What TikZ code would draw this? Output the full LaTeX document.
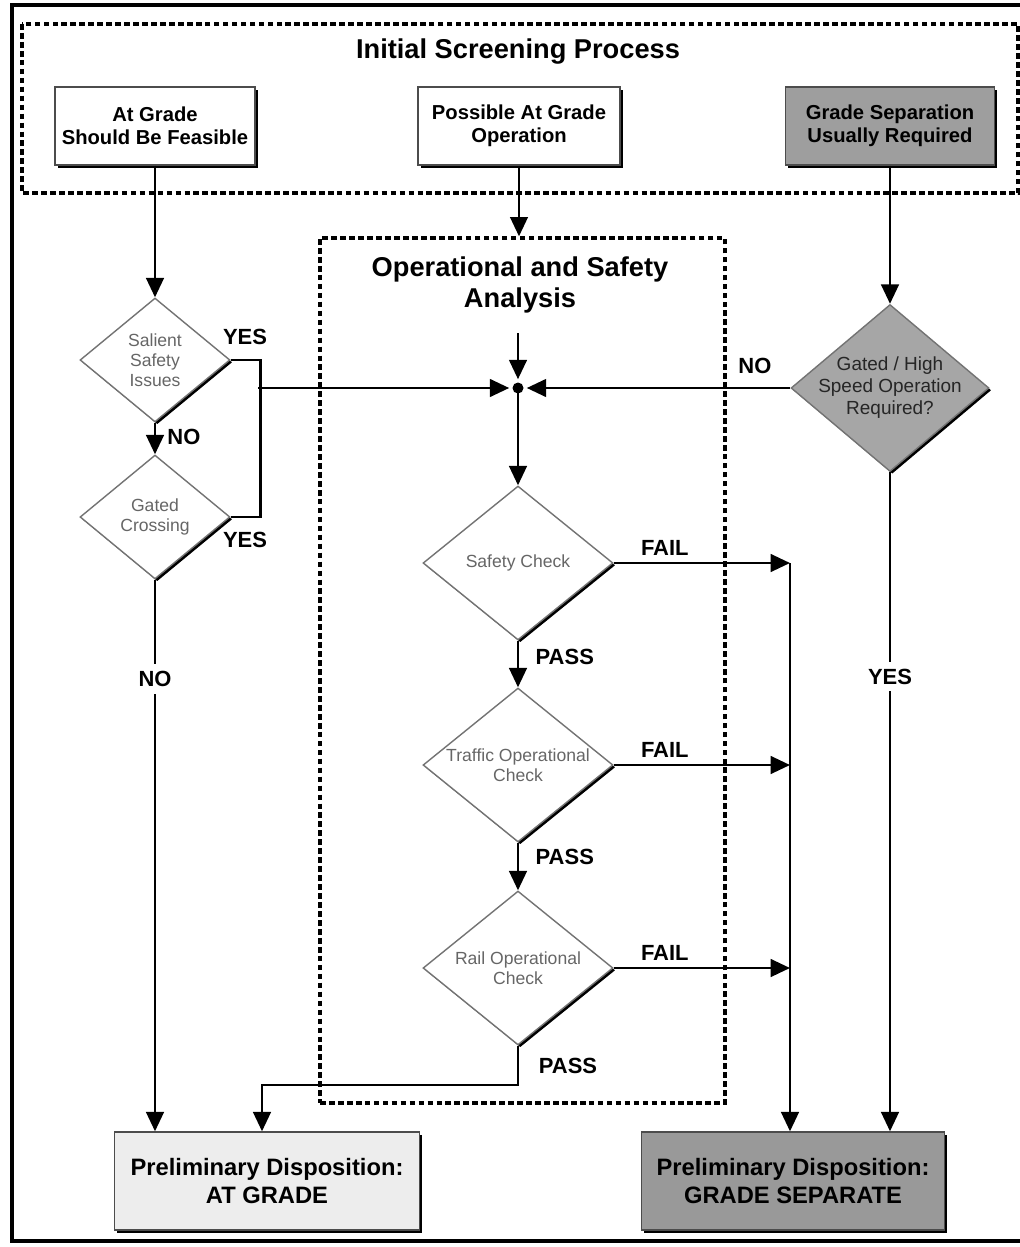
\documentclass[tikz,border=0pt]{standalone}
\usepackage{fontspec}
\setmainfont{Liberation Sans}
\usetikzlibrary{shapes.geometric,arrows.meta,shadows}

\begin{document}
\begin{tikzpicture}[x=0.02cm,y=-0.02cm,
    box/.style={rectangle,draw=black!70,line width=0.8pt,fill=white,align=center,
        font=\bfseries\fontsize{11.5}{13}\selectfont,
        drop shadow={shadow xshift=1.6pt,shadow yshift=-1.6pt,opacity=1,fill=black}},
    dia/.style={diamond,draw=black!55,line width=0.8pt,fill=white,inner sep=0pt,
        drop shadow={shadow xshift=1.3pt,shadow yshift=-1.3pt,opacity=1,fill=black}},
    dtxt/.style={align=center,font=\fontsize{10}{11.5}\selectfont,text=black!60},
    lbl/.style={font=\bfseries\fontsize{12.5}{14}\selectfont},
    frame/.style={draw,line width=2pt,dash pattern=on 3.2pt off 1.9pt},
    arr/.style={line width=1.5pt,-{Triangle[length=11pt,width=10pt]}}]
\useasboundingbox (0,0) rectangle (1020,1247);
\draw[line width=2.8pt] (12,5) rectangle (1040,1241);

% initial screening
\draw[frame] (22,24) rectangle (1018,193);
\node[font=\bfseries\fontsize{15.5}{17}\selectfont] (T1) at (518,52) {Initial Screening Process};
\node[box,minimum width=4cm,minimum height=1.56cm] (B1) at (155,126) {At Grade\\Should Be Feasible};
\node[box,minimum width=4.04cm,minimum height=1.56cm] (B2) at (519,126) {Possible At Grade\\Operation};
\node[box,minimum width=4.18cm,minimum height=1.56cm,fill=black!38] (B3) at (890,126) {Grade Separation\\Usually Required};

% operational and safety analysis
\node[frame,minimum width=8.1cm,minimum height=17.3cm] (OSA) at (522.5,670.5) {};
\node[font=\bfseries\fontsize{15.5}{18}\selectfont,align=center] (T2) at (520,285) {Operational and Safety\\Analysis};
\coordinate (J0) at (518,333);
\coordinate (J) at (518,388);
\coordinate (K) at (258,388);

\node[dia,minimum width=3cm,minimum height=2.48cm] (D1) at (155,360) {};
\node[dtxt] (D1t) at (D1) {Salient\\Safety\\Issues};
\node[dia,minimum width=3cm,minimum height=2.48cm] (D2) at (155,517) {};
\node[dtxt] (D2t) at (D2) {Gated\\Crossing};
\node[dia,minimum width=3.96cm,minimum height=3.34cm,fill=black!35] (D3) at (890,388) {};
\node[dtxt,text=black!85,font=\fontsize{10.8}{12.5}\selectfont] (D3t) at (D3) {Gated / High\\Speed Operation\\Required?};
\node[dia,minimum width=3.8cm,minimum height=3.08cm] (D4) at (518,563) {};
\node[dtxt] (D4t) at (D4) {Safety Check};
\node[dia,minimum width=3.8cm,minimum height=3.08cm] (D5) at (518,765) {};
\node[dtxt] (D5t) at (D5) {Traffic Operational\\Check};
\node[dia,minimum width=3.8cm,minimum height=3.08cm] (D6) at (518,968) {};
\node[dtxt] (D6t) at (D6) {Rail Operational\\Check};

\coordinate (V4) at (790,563);
\coordinate (V5) at (790,765);
\coordinate (V6) at (790,968);
\coordinate (Q) at (262,1085);

% dispositions
\node[box,minimum width=6.1cm,minimum height=1.96cm,fill=black!7,font=\bfseries\fontsize{13.5}{16}\selectfont] (P1) at (267,1181) {Preliminary Disposition:\\AT GRADE};
\node[box,minimum width=6.06cm,minimum height=1.96cm,fill=black!40,font=\bfseries\fontsize{13.5}{16}\selectfont] (P2) at (793,1181) {Preliminary Disposition:\\GRADE SEPARATE};

\fill (J) circle (5.5);

\path[every node/.style={lbl}]
    (B1) edge[arr] (D1)
    (D1) edge[arr] node [pos=0.45, right=3pt] {NO} (D2)
    (D2) edge[arr] node [fill=white, pos=0.18, inner sep=4pt] {NO} (D2 |- P1.north)
    (K) edge[arr, shorten >=5pt] (J)
    (B2) edge[arr] (B2 |- OSA.north)
    (J0) edge[arr, shorten >=5pt] (J)
    (B3) edge[arr] (D3)
    (D3.west) edge[arr, shorten >=5pt] node [pos=0.13, above=4pt] {NO} (J)
    (D3) edge[arr] node [fill=white, pos=0.31, inner sep=4pt] {YES} (D3 |- P2.north)
    (J) edge[arr] (D4)
    (D4) edge[arr] node [pos=0.35, right=6pt] {PASS} (D5)
    (D5) edge[arr] node [pos=0.3, right=6pt] {PASS} (D6)
    (D4.east) edge[arr] node [pos=0.29, above] {FAIL} (V4)
    (D5.east) edge[arr] node [pos=0.29, above] {FAIL} (V5)
    (D6.east) edge[arr] node [pos=0.29, above] {FAIL} (V6)
    (V4) edge[arr] (V4 |- P2.north);

\draw[line width=1.5pt] (D1.east) -- ++(30,0) |- (D2.east);
\node[lbl] (L1) at (245,337) {YES};
\node[lbl] (L2) at (245,540) {YES};
\draw[arr] (D6.south) |- (Q) -- (Q |- P1.north);
\node[lbl] (L3) at (568,1066) {PASS};
\end{tikzpicture}
\end{document}
